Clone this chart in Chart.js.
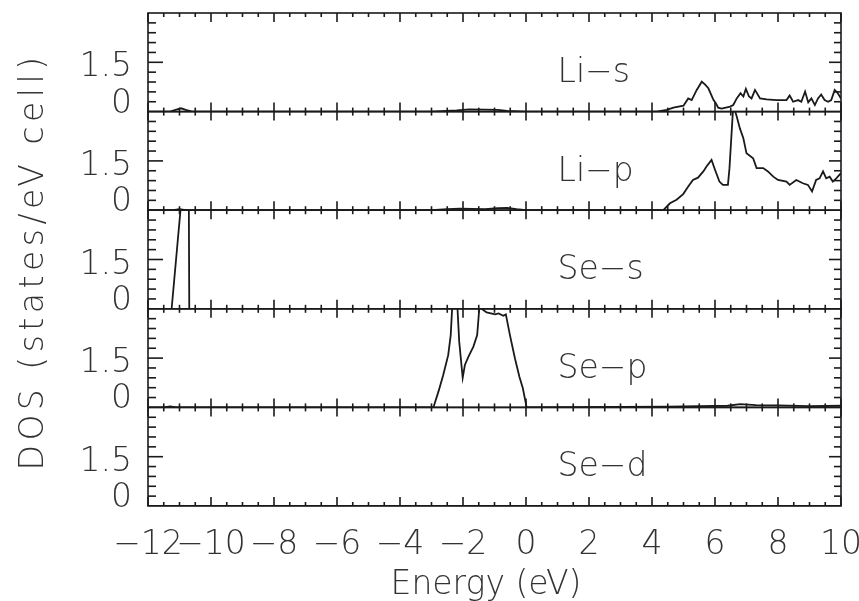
<!DOCTYPE html>
<html>
<head>
<meta charset="utf-8">
<script src="https://cdn.jsdelivr.net/npm/chart.js@4.4.1/dist/chart.umd.min.js"></script>
<style>
  body { margin: 0; background: #fff; }
  #wrap { width: 859px; height: 601px; }
</style>
</head>
<body>
<div id="wrap"><canvas id="dosChart" width="859" height="601"></canvas></div>
<script>
// Panel names, top to bottom
const panelNames = ['Li\u2212s', 'Li\u2212p', 'Se\u2212s', 'Se\u2212p', 'Se\u2212d'];

// Energies (eV) and DOS values, one pair per panel
const liSEnergy = [-12, -11.3, -11.1, -10.95, -10.8, -10.6, -3.0, -2.2, -1.8, -1.3, -0.9, -0.6, 0,
  4.15, 4.47, 4.68, 5.0, 5.15, 5.26, 5.42, 5.58, 5.68, 5.79, 5.95, 6.03, 6.1, 6.21, 6.48, 6.58, 6.69,
  6.81, 6.9, 6.98, 7.08, 7.16, 7.27, 7.43, 7.64, 7.95, 8.27, 8.37, 8.48, 8.64, 8.74, 8.86, 8.96, 9.06,
  9.17, 9.27, 9.37, 9.48, 9.59, 9.69, 9.8, 9.9, 10.0];
const liSDos = [0, 0, 0.06, 0.1, 0.05, 0, 0, 0.04, 0.07, 0.06, 0.05, 0.02, 0,
  0, 0.05, 0.12, 0.18, 0.4, 0.35, 0.66, 0.91, 0.83, 0.71, 0.36, 0.25, 0.12, 0.09, 0.15, 0.2, 0.4,
  0.56, 0.46, 0.69, 0.46, 0.4, 0.66, 0.4, 0.37, 0.35, 0.35, 0.49, 0.3, 0.35, 0.3, 0.61, 0.28, 0.4,
  0.2, 0.4, 0.52, 0.35, 0.3, 0.35, 0.66, 0.56, 0.4];

const liPEnergy = [-12, -11.2, -11.0, -10.8, -3.0, -2.5, -2.1, -1.7, -1.3, -0.9, -0.6, -0.3, 0,
  4.36, 4.57, 4.78, 4.99, 5.15, 5.3, 5.46, 5.63, 5.73, 5.89, 6.0, 6.14, 6.25, 6.41, 6.46, 6.58, 6.69,
  6.79, 6.9, 7.0, 7.21, 7.32, 7.53, 7.68, 7.85, 8.0, 8.27, 8.37, 8.58, 8.79, 8.95, 9.08, 9.21, 9.32,
  9.43, 9.53, 9.64, 9.74, 9.85, 10.0];
const liPDos = [0, 0, 0.03, 0, 0, 0.03, 0.05, 0.04, 0.03, 0.06, 0.07, 0.03, 0,
  0, 0.21, 0.32, 0.49, 0.72, 0.92, 0.99, 1.18, 1.33, 1.53, 1.23, 0.87, 0.77, 0.77, 1.28, 3.2, 2.85,
  2.49, 2.19, 1.73, 1.58, 1.28, 1.28, 1.18, 1.02, 0.92, 0.87, 0.77, 0.92, 0.82, 0.77, 0.57, 0.92, 0.97,
  1.18, 0.97, 1.02, 0.87, 0.97, 1.13];

const seSEnergy = [-12, -11.25, -10.95, -10.85, -10.72, -10.69, -10.5, 10];
const seSDos = [0, 0, 3.2, 9, 7, 0, 0, 0];

const sePEnergy = [-12, -11.5, -11.3, -11.1, -3.2, -2.94, -2.78, -2.63, -2.47, -2.39,
  -2.34, -2.28, -2.18, -2.12, -2.01, -1.94, -1.83, -1.67, -1.55, -1.48,
  -1.41, -1.25, -0.98, -0.87, -0.72, -0.64, -0.51, -0.35, -0.21, -0.1,
  0.02, 4.5, 5.5, 6.4, 6.8, 7.3, 8.0, 9.0, 10];
const sePDos = [0, 0, 0.03, 0, 0, 0, 0.48, 0.98, 1.59, 2.2,
  3.1, 3.5, 3.1, 2.0, 0.9, 1.29, 1.54, 1.85, 2.2, 3.05,
  3.0, 2.89, 2.83, 2.86, 2.79, 2.83, 2.2, 1.49, 0.93, 0.58,
  0, 0.02, 0.04, 0.05, 0.1, 0.07, 0.06, 0.04, 0.05];

const seDEnergy = [-12, -6, 0, 6, 10];
const seDDos = [0, 0, 0, 0, 0];

// Axis ticks
const xTickValues = [-12, -10, -8, -6, -4, -2, 0, 2, 4, 6, 8, 10];
const yTickValues = [1.5, 0];

const panelEnergies = [liSEnergy, liPEnergy, seSEnergy, sePEnergy, seDEnergy];
const panelDos = [liSDos, liPDos, seSDos, sePDos, seDDos];

const ink = '#1a1a1a';
const textInk = '#333';
const font = '200 33px "DejaVu Sans"';

function fmt(v) {
  return (v < 0 ? '\u2212' : '') + Math.abs(v);
}

// draws panel frames, inward ticks, tick labels, panel names and titles
const framePlugin = {
  id: 'frame',
  afterDatasetsDraw(chart) {
    const { ctx, scales } = chart;
    const x = scales.x;
    const line = (x0, y0, x1, y1) => {
      ctx.beginPath();
      ctx.moveTo(x0, y0);
      ctx.lineTo(x1, y1);
      ctx.stroke();
    };
    ctx.save();
    ctx.strokeStyle = ink;
    ctx.lineWidth = 1.6;
    panelNames.forEach((name, i) => {
      const y = scales['y' + i];
      ctx.strokeRect(x.left, y.top, x.right - x.left, y.bottom - y.top);
      for (let k = 0; k <= 44; k++) {
        const px = x.getPixelForValue(-12 + k * 0.5);
        const len = k % 4 === 0 ? 9 : 4;
        line(px, y.bottom, px, y.bottom - len);
        line(px, y.top, px, y.top + len);
      }
      for (let k = 1; k < 10; k++) {
        const py = y.getPixelForValue(k * 0.3);
        const major = k === 5;
        line(x.left, py, x.left + (major ? 15 : 8), py);
        line(x.right, py, x.right - (major ? 12 : 7), py);
      }
      ctx.fillStyle = textInk;
      ctx.font = font;
      ctx.textAlign = 'right';
      ctx.textBaseline = 'alphabetic';
      yTickValues.forEach(v => {
        const py = y.getPixelForValue(v);
        ctx.fillText(String(v), x.left - 16, v === 0 ? py + 1 : py + 14);
      });
      ctx.textAlign = 'left';
      ctx.fillText(name, x.getPixelForValue(1.0), y.getPixelForValue(0.9));
    });
    const bottom = scales['y' + (panelNames.length - 1)].bottom;
    ctx.fillStyle = textInk;
    ctx.font = font;
    ctx.textAlign = 'center';
    ctx.textBaseline = 'alphabetic';
    xTickValues.forEach(v => {
      ctx.fillText(fmt(v), x.getPixelForValue(v), bottom + 48);
    });
    ctx.fillText('Energy (eV)', 486, bottom + 88);
    ctx.translate(43, (scales.y0.top + bottom) / 2 + 2);
    ctx.rotate(-Math.PI / 2);
    ctx.letterSpacing = '4.5px';
    ctx.fillText('DOS (states/eV cell)', 0, 0);
    ctx.restore();
  }
};

const yScales = {};
panelNames.forEach((name, i) => {
  yScales['y' + i] = {
    type: 'linear',
    position: 'left',
    stack: 'dos',
    stackWeight: 1,
    weight: panelNames.length - i,
    min: 0,
    max: 3,
    ticks: { display: false },
    grid: { display: false },
    border: { display: false },
    afterFit(scale) { scale.width = 0; }
  };
});

const dosCtx = document.getElementById('dosChart').getContext('2d');
const dosChart = new Chart(dosCtx, {
  type: 'line',
  data: {
    datasets: panelNames.map((name, i) => ({
      label: name,
      data: panelEnergies[i].map((e, j) => ({ x: e, y: panelDos[i][j] })),
      yAxisID: 'y' + i,
      borderColor: ink,
      borderWidth: 1.8,
      pointRadius: 0,
      tension: 0,
      fill: false,
      clip: 0
    }))
  },
  options: {
    responsive: false,
    animation: false,
    layout: { padding: { left: 148, right: 18, top: 13, bottom: 95 } },
    plugins: { legend: { display: false }, tooltip: { enabled: false } },
    scales: Object.assign({
      x: { type: 'linear', min: -12, max: 10, display: false }
    }, yScales)
  },
  plugins: [framePlugin]
});
</script>
</body>
</html>
